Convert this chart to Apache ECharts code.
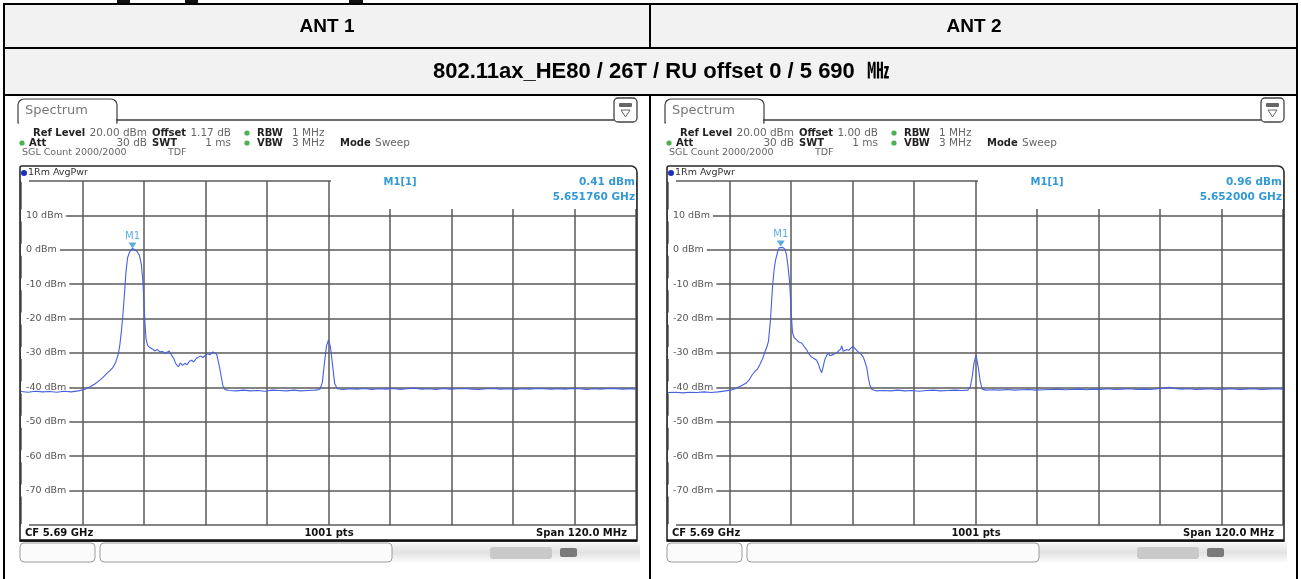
<!DOCTYPE html>
<html>
<head>
<meta charset="utf-8">
<script src="https://cdn.jsdelivr.net/npm/echarts/dist/echarts.min.js"></script>
<style>
  html, body { margin: 0; padding: 0; background: #fff; }
  #chart { width: 1301px; height: 579px; }
</style>
</head>
<body>
<div id="chart"></div>
<script>
// ---- test-report values ----
const COLUMN_TITLES = ['ANT 1', 'ANT 2'];
const TEST_CASE = '802.11ax_HE80 / 26T / RU offset 0 / 5 690  \u3392';
const CENTER_FREQ_GHZ = 5.69;
const SPAN_MHZ = 120;
const SWEEP_POINTS = 1001;
const REF_LEVEL_DBM = 20;
const LEVEL_MIN_DBM = -80;
const OFFSETS_DB = [1.17, 1.00];
const MARKER_FREQ_GHZ = [5.651760, 5.652000];
const MARKER_LEVEL_DBM = [0.41, 0.96];

// trace points: [frequency offset from CF in MHz, level in dBm]
const ANT1_TRACE = [
  [-60.0,-41.2],[-58.6,-41.4],[-57.2,-41.1],[-55.8,-41.3],[-54.4,-41.2],[-53.0,-41.4],[-51.6,-41.1],[-50.2,-41.3],
  [-48.8,-41.0],[-47.6,-40.6],[-46.6,-39.9],[-45.6,-39.0],[-44.6,-37.9],[-44.0,-37.1],[-43.3,-36.0],[-42.7,-35.2],
  [-42.0,-34.1],[-41.5,-32.6],[-41.0,-30.2],[-40.7,-27.5],[-40.4,-23.5],[-40.1,-18.6],[-39.8,-12.6],[-39.5,-6.2],
  [-39.2,-2.3],[-38.8,-0.6],[-38.5,-0.1],[-38.24,0.41],[-37.9,0.2],[-37.4,-0.4],[-36.9,-1.6],[-36.5,-4.4],
  [-36.2,-9.5],[-36.0,-15.8],[-35.8,-21.6],[-35.6,-25.9],[-35.3,-27.8],[-34.8,-28.5],[-34.3,-28.9],[-33.9,-29.4],
  [-33.4,-29.0],[-32.9,-29.7],[-32.4,-29.5],[-31.9,-30.2],[-31.5,-29.8],[-31.1,-29.4],[-30.6,-30.7],[-30.2,-31.6],
  [-29.8,-33.1],[-29.3,-34.0],[-28.9,-32.9],[-28.5,-33.6],[-28.0,-33.0],[-27.6,-33.4],[-27.2,-32.5],[-26.7,-32.1],
  [-26.3,-32.6],[-25.8,-31.6],[-25.4,-31.2],[-25.0,-30.9],[-24.5,-31.3],[-24.1,-30.8],[-23.6,-30.2],[-23.1,-30.5],
  [-22.6,-29.7],[-22.2,-29.9],[-21.8,-30.5],[-21.5,-32.5],[-21.2,-34.6],[-20.9,-37.2],[-20.6,-39.5],[-20.2,-40.6],
  [-19.4,-40.9],[-18.0,-41.0],[-16.6,-40.8],[-15.2,-41.0],[-13.8,-40.9],[-12.4,-41.1],[-11.0,-40.8],[-9.6,-40.9],
  [-8.2,-41.0],[-6.8,-40.8],[-5.4,-41.0],[-4.0,-40.9],[-2.6,-40.8],[-1.7,-40.6],[-1.2,-38.6],[-0.8,-33.0],
  [-0.4,-28.0],[0.0,-26.2],[0.4,-28.4],[0.8,-33.6],[1.2,-38.9],[1.7,-40.4],[2.8,-40.6],[4.2,-40.4],
  [5.6,-40.5],[7.0,-40.3],[8.4,-40.6],[9.8,-40.4],[11.2,-40.5],[12.6,-40.3],[14.0,-40.6],[15.4,-40.4],
  [16.8,-40.2],[18.2,-40.5],[19.6,-40.4],[21.0,-40.6],[22.4,-40.3],[23.8,-40.5],[25.2,-40.4],[26.6,-40.3],
  [28.0,-40.5],[29.4,-40.6],[30.8,-40.4],[32.2,-40.3],[33.6,-40.5],[35.0,-40.4],[36.4,-40.6],[37.8,-40.4],
  [39.2,-40.5],[40.6,-40.3],[42.0,-40.4],[43.4,-40.5],[44.8,-40.4],[46.2,-40.5],[47.6,-40.3],[49.0,-40.4],
  [50.4,-40.6],[51.8,-40.4],[53.2,-40.5],[54.6,-40.3],[56.0,-40.4],[57.4,-40.5],[58.8,-40.4],[60.0,-40.5]
];

const ANT2_TRACE = [
  [-60.0,-41.5],[-58.6,-41.4],[-57.2,-41.6],[-55.8,-41.4],[-54.4,-41.5],[-53.0,-41.3],[-51.6,-41.5],[-50.2,-41.3],
  [-48.8,-41.0],[-47.8,-40.8],[-46.8,-40.3],[-45.8,-39.6],[-44.8,-38.8],[-44.2,-37.9],[-43.6,-36.4],[-43.0,-35.3],
  [-42.5,-34.6],[-42.0,-33.1],[-41.5,-31.5],[-41.1,-29.7],[-40.7,-28.2],[-40.4,-26.6],[-40.2,-23.5],[-40.0,-20.3],
  [-39.8,-15.4],[-39.6,-10.6],[-39.3,-5.8],[-39.0,-2.9],[-38.6,-0.5],[-38.3,0.6],[-38.0,0.96],[-37.6,0.7],
  [-37.2,0.2],[-36.9,-1.3],[-36.6,-4.6],[-36.3,-8.9],[-36.1,-14.0],[-35.9,-19.6],[-35.7,-24.1],[-35.4,-25.5],
  [-34.9,-26.2],[-34.4,-26.9],[-33.9,-27.1],[-33.4,-28.2],[-32.9,-29.2],[-32.4,-30.5],[-32.0,-31.2],[-31.5,-31.6],
  [-31.0,-32.1],[-30.6,-33.4],[-30.3,-34.9],[-30.0,-35.7],[-29.7,-33.8],[-29.4,-31.9],[-29.0,-30.6],[-28.7,-30.0],
  [-28.4,-30.8],[-28.1,-31.3],[-27.7,-30.4],[-27.4,-30.1],[-27.0,-29.9],[-26.7,-29.3],[-26.3,-28.9],[-26.1,-27.9],
  [-25.8,-29.5],[-25.5,-29.7],[-25.1,-29.0],[-24.7,-29.2],[-24.3,-28.6],[-23.9,-28.1],[-23.5,-28.7],[-23.1,-29.4],
  [-22.7,-29.9],[-22.3,-30.4],[-21.9,-31.2],[-21.6,-32.4],[-21.2,-34.4],[-20.9,-37.3],[-20.6,-39.4],[-20.2,-40.6],
  [-19.4,-41.0],[-18.0,-40.9],[-16.6,-41.0],[-15.2,-40.8],[-13.8,-41.0],[-12.4,-40.9],[-11.0,-41.1],[-9.6,-40.9],
  [-8.2,-40.8],[-6.8,-41.0],[-5.4,-40.9],[-4.0,-40.8],[-2.6,-40.9],[-1.5,-40.8],[-1.0,-39.8],[-0.6,-36.5],
  [-0.3,-33.0],[0.1,-30.6],[0.5,-33.8],[0.9,-38.0],[1.3,-40.5],[2.0,-40.8],[3.4,-40.7],[4.8,-40.8],
  [6.2,-40.6],[7.6,-40.8],[9.0,-40.7],[10.4,-40.6],[11.8,-40.8],[13.2,-40.7],[14.6,-40.6],[16.0,-40.5],
  [17.4,-40.7],[18.8,-40.6],[20.2,-40.5],[21.6,-40.7],[23.0,-40.5],[24.4,-40.6],[25.8,-40.4],[27.2,-40.6],
  [28.6,-40.5],[30.0,-40.4],[31.4,-40.6],[32.8,-40.5],[34.2,-40.6],[35.6,-40.4],[37.0,-40.2],[37.9,-40.0],
  [38.8,-40.3],[40.2,-40.5],[41.6,-40.4],[43.0,-40.6],[44.4,-40.5],[45.8,-40.4],[47.2,-40.6],[48.6,-40.5],
  [50.0,-40.4],[51.4,-40.6],[52.8,-40.5],[54.2,-40.4],[55.6,-40.6],[57.0,-40.5],[58.4,-40.4],[60.0,-40.5]
];
const TRACES = [ANT1_TRACE, ANT2_TRACE];

// ---- layout ----
const UI_FONT = '"DejaVu Sans", Verdana, sans-serif';
const HEAD_FONT = '"Liberation Sans", Arial, "Noto Sans CJK KR", sans-serif';
const PANEL_STEP = 647;
const PLOT = { left: 21, top: 181, width: 615, height: 344 };
const TRACE_COLOR = '#4560e2';
const MARKER_COLOR = '#3399d6';
const GRID_COLOR = '#5a5a5a';

function txt(x, y, text, o) {
  o = o || {};
  return {
    type: 'text', x: x, y: y, z: o.z == null ? 20 : o.z, silent: true,
    style: {
      text: text, fill: o.fill || '#333',
      font: o.font || ('10.5px ' + UI_FONT),
      align: o.align || 'left', verticalAlign: 'middle'
    }
  };
}
function line(x1, y1, x2, y2, color, w, z) {
  return { type: 'line', z: z == null ? 30 : z, silent: true,
    shape: { x1: x1, y1: y1, x2: x2, y2: y2 },
    style: { stroke: color, lineWidth: w } };
}
function rect(x, y, w, h, style, z, r) {
  return { type: 'rect', z: z == null ? 10 : z, silent: true,
    shape: { x: x, y: y, width: w, height: h, r: r || 0 }, style: style };
}

const graphics = [];

// report table
graphics.push(rect(4, 4, 1293, 91, { fill: '#f2f2f2' }, -10));
graphics.push(rect(117, 0, 13, 3, { fill: '#111' }, 30));
graphics.push(rect(185, 0, 13, 3, { fill: '#111' }, 30));
graphics.push(rect(349, 0, 14, 3, { fill: '#111' }, 30));
[4, 48, 95].forEach(function (y) { graphics.push(line(3, y, 1298, y, '#000', 2)); });
graphics.push(line(4, 3, 4, 579, '#000', 2));
graphics.push(line(1297, 3, 1297, 579, '#000', 2));
graphics.push(line(650, 3, 650, 48, '#000', 2));
graphics.push(line(650, 95, 650, 579, '#000', 2));
graphics.push(txt(327, 27, COLUMN_TITLES[0], { font: 'bold 19px ' + HEAD_FONT, fill: '#000', align: 'center' }));
graphics.push(txt(974, 27, COLUMN_TITLES[1], { font: 'bold 19px ' + HEAD_FONT, fill: '#000', align: 'center' }));
graphics.push(txt(661, 72, TEST_CASE, { font: 'bold 22px ' + HEAD_FONT, fill: '#000', align: 'center' }));

// analyzer screen chrome, one per antenna
for (let i = 0; i < 2; i++) {
  const dx = i * PANEL_STEP;
  const bold = 'bold 10px ' + UI_FONT;
  // "Spectrum" tab and header rule
  graphics.push(rect(18 + dx, 99, 99, 24, { fill: '#fff', stroke: '#3c3c3c', lineWidth: 1.2 }, 12, [6, 6, 0, 0]));
  graphics.push(rect(19 + dx, 119, 97, 6, { fill: '#fff' }, 13));
  graphics.push(line(116 + dx, 120, 614 + dx, 120, '#3c3c3c', 1.3, 12));
  graphics.push(txt(25 + dx, 111, 'Spectrum', { font: '13px ' + UI_FONT, fill: '#777' }));
  // menu icon box
  graphics.push(rect(614 + dx, 98, 23, 24, { fill: '#fff', stroke: '#444', lineWidth: 1.3 }, 12, 4));
  graphics.push(rect(619 + dx, 103, 13, 4, { fill: '#666' }, 13, 1));
  graphics.push({ type: 'polygon', z: 13, silent: true,
    shape: { points: [[621 + dx, 110], [630 + dx, 110], [625.5 + dx, 117]] },
    style: { fill: '#fff', stroke: '#666', lineWidth: 1 } });

  // setting lines
  graphics.push(txt(33 + dx, 133, 'Ref Level', { font: bold, fill: '#222' }));
  graphics.push(txt(147 + dx, 133, REF_LEVEL_DBM.toFixed(2) + ' dBm', { fill: '#666', align: 'right' }));
  graphics.push(txt(152 + dx, 133, 'Offset', { font: bold, fill: '#222' }));
  graphics.push(txt(231 + dx, 133, OFFSETS_DB[i].toFixed(2) + ' dB', { fill: '#666', align: 'right' }));
  graphics.push({ type: 'circle', z: 20, silent: true, shape: { cx: 247 + dx, cy: 133, r: 2.6 }, style: { fill: '#4caf50' } });
  graphics.push(txt(257 + dx, 133, 'RBW', { font: bold, fill: '#222' }));
  graphics.push(txt(292 + dx, 133, '1 MHz', { fill: '#666' }));

  graphics.push({ type: 'circle', z: 20, silent: true, shape: { cx: 22 + dx, cy: 143, r: 2.6 }, style: { fill: '#4caf50' } });
  graphics.push(txt(29 + dx, 143, 'Att', { font: bold, fill: '#222' }));
  graphics.push(txt(147 + dx, 143, '30 dB', { fill: '#666', align: 'right' }));
  graphics.push(txt(152 + dx, 143, 'SWT', { font: bold, fill: '#222' }));
  graphics.push(txt(231 + dx, 143, '1 ms', { fill: '#666', align: 'right' }));
  graphics.push({ type: 'circle', z: 20, silent: true, shape: { cx: 247 + dx, cy: 143, r: 2.6 }, style: { fill: '#4caf50' } });
  graphics.push(txt(257 + dx, 143, 'VBW', { font: bold, fill: '#222' }));
  graphics.push(txt(292 + dx, 143, '3 MHz', { fill: '#666' }));
  graphics.push(txt(340 + dx, 143, 'Mode', { font: bold, fill: '#222' }));
  graphics.push(txt(375 + dx, 143, 'Sweep', { fill: '#666' }));

  graphics.push(txt(22 + dx, 153, 'SGL Count 2000/2000', { fill: '#666', font: '9.5px ' + UI_FONT }));
  graphics.push(txt(168 + dx, 153, 'TDF', { fill: '#666', font: '9.5px ' + UI_FONT }));

  // diagram frame
  graphics.push(rect(20 + dx, 166, 617, 375, { fill: 'none', stroke: '#2a2a2a', lineWidth: 1.6 }, 40, [2, 6, 0, 0]));
  graphics.push(line(20 + dx, 540.5, 637 + dx, 540.5, '#111', 2.5, 41));
  graphics.push({ type: 'circle', z: 20, silent: true, shape: { cx: 24 + dx, cy: 173, r: 3 }, style: { fill: '#1e2fc0' } });
  graphics.push(txt(28 + dx, 173, '1Rm AvgPwr', { fill: '#333', font: '9.5px ' + UI_FONT }));

  // marker readout
  graphics.push(rect(331 + dx, 174, 305, 35, { fill: '#fff' }, 5));
  const mFreq = MARKER_FREQ_GHZ[i].toFixed(6) + ' GHz';
  const mLevel = MARKER_LEVEL_DBM[i].toFixed(2) + ' dBm';
  graphics.push(txt(400 + dx, 182, 'M1[1]', { font: 'bold 10px ' + UI_FONT, fill: MARKER_COLOR, align: 'center' }));
  graphics.push(txt(635 + dx, 182, mLevel, { font: 'bold 10.5px ' + UI_FONT, fill: MARKER_COLOR, align: 'right' }));
  graphics.push(txt(635 + dx, 197, mFreq, { font: 'bold 10.5px ' + UI_FONT, fill: MARKER_COLOR, align: 'right' }));

  // footer
  graphics.push(txt(25 + dx, 533, 'CF ' + CENTER_FREQ_GHZ.toFixed(2) + ' GHz', { font: 'bold 10px ' + UI_FONT, fill: '#111' }));
  graphics.push(txt(329 + dx, 533, SWEEP_POINTS + ' pts', { font: 'bold 10px ' + UI_FONT, fill: '#111', align: 'center' }));
  graphics.push(txt(627 + dx, 533, 'Span ' + SPAN_MHZ.toFixed(1) + ' MHz', { font: 'bold 10px ' + UI_FONT, fill: '#111', align: 'right' }));

  // soft-key strip
  graphics.push({ type: 'rect', z: 8, silent: true, shape: { x: 392 + dx, y: 543, width: 248, height: 19 },
    style: { fill: { type: 'linear', x: 0, y: 0, x2: 0, y2: 1,
      colorStops: [{ offset: 0, color: '#f4f4f4' }, { offset: 0.5, color: '#e2e2e2' }, { offset: 1, color: '#fbfbfb' }] } } });
  graphics.push(rect(20 + dx, 543, 75, 19, { fill: '#fbfbfb', stroke: '#9a9a9a', lineWidth: 1 }, 9, 4));
  graphics.push(rect(100 + dx, 543, 292, 19, { fill: '#fbfbfb', stroke: '#9a9a9a', lineWidth: 1 }, 9, 4));
  graphics.push(rect(490 + dx, 547, 62, 12, { fill: '#c9c9c9' }, 9, 3));
  graphics.push(rect(560 + dx, 548, 17, 9, { fill: '#7a7a7a' }, 9, 2));
}

// ---- axes, grids, series ----
const grids = [], xAxes = [], yAxes = [], series = [];
for (let i = 0; i < 2; i++) {
  grids.push({ left: PLOT.left + i * PANEL_STEP, top: PLOT.top, width: PLOT.width, height: PLOT.height, containLabel: false });
  xAxes.push({
    type: 'value', gridIndex: i, min: -SPAN_MHZ / 2, max: SPAN_MHZ / 2, interval: SPAN_MHZ / 10,
    axisLabel: { show: false }, axisTick: { show: false }, axisLine: { show: false },
    splitLine: { show: true, lineStyle: { color: GRID_COLOR, width: 1.5 } }
  });
  yAxes.push({
    type: 'value', gridIndex: i, min: LEVEL_MIN_DBM, max: REF_LEVEL_DBM, interval: 10,
    axisLine: { show: false }, axisTick: { show: false },
    splitLine: { show: true, lineStyle: { color: GRID_COLOR, width: 1.5 } },
    axisLabel: {
      inside: true, margin: 0,
      formatter: function (v) { return (v >= REF_LEVEL_DBM || v <= LEVEL_MIN_DBM) ? '' : v + ' dBm'; },
      color: '#555', fontSize: 9.5, fontFamily: 'DejaVu Sans',
      backgroundColor: '#fff', padding: [1, 3, 1, 5]
    }
  });
  series.push({
    type: 'line', xAxisIndex: i, yAxisIndex: i, data: TRACES[i],
    showSymbol: false, symbol: 'none', smooth: false, animation: false,
    lineStyle: { color: TRACE_COLOR, width: 1.1 }, z: 3
  });
  series.push({
    type: 'scatter', xAxisIndex: i, yAxisIndex: i, animation: false, z: 4,
    data: [[MARKER_FREQ_GHZ[i] * 1000 - CENTER_FREQ_GHZ * 1000, MARKER_LEVEL_DBM[i]]],
    symbol: 'triangle', symbolRotate: 180, symbolSize: [8, 6], symbolOffset: [0, -3],
    itemStyle: { color: MARKER_COLOR },
    label: { show: true, position: 'top', distance: 1, formatter: 'M1',
      color: MARKER_COLOR, fontSize: 10, fontFamily: 'DejaVu Sans' }
  });
}

const chart = echarts.init(document.getElementById('chart'), null, { renderer: 'canvas', width: 1301, height: 579 });
chart.setOption({
  animation: false,
  backgroundColor: '#fff',
  grid: grids, xAxis: xAxes, yAxis: yAxes, series: series,
  graphic: { elements: graphics }
});
</script>
</body>
</html>
